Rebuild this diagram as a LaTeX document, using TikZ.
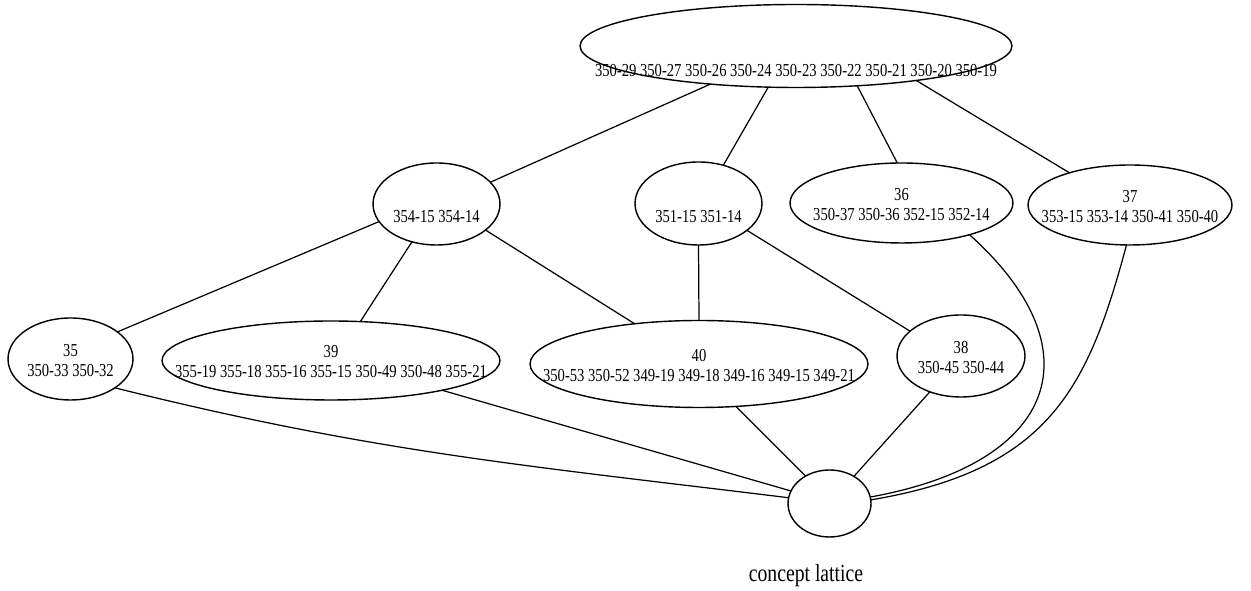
\documentclass[tikz,border=0pt]{standalone}
\usepackage{fontspec}
\setmainfont{Liberation Serif}[FakeStretch=0.80]
\usetikzlibrary{shapes.geometric}

% zero-size label boxes, so the ellipse keeps its given size
\newcommand{\oneline}[2]{\raisebox{#1}[0pt][0pt]{\makebox[0pt]{#2}}}
\newcommand{\twolines}[2]{\makebox[0pt]{\raisebox{1.5pt}[0pt][0pt]{#1}}\makebox[0pt]{\raisebox{-9.8pt}[0pt][0pt]{#2}}}

\begin{document}
\begin{tikzpicture}[x=0.02cm,y=0.02cm,
  concept/.style={ellipse, draw, line width=0.8pt, inner sep=0pt, outer sep=0pt,
                  font=\fontsize{10.4}{12}\selectfont},
  link/.style={line width=0.7pt}]
\useasboundingbox (0,0) rectangle (1251,591);
\fill[white] (0,0) rectangle (1251,591);

% top concept
\node[concept, minimum width=8.64cm, minimum height=1.66cm] (top) at (796,545)
  {\oneline{-17.3pt}{350-29 350-27 350-26 350-24 350-23 350-22 350-21 350-20 350-19}};

% second row
\node[concept, minimum width=2.54cm, minimum height=1.64cm] (n354) at (436.5,387)
  {\oneline{-10.8pt}{354-15 354-14}};
\node[concept, minimum width=2.54cm, minimum height=1.66cm] (n351) at (698.5,387.5)
  {\oneline{-10.8pt}{351-15 351-14}};
\node[concept, minimum width=4.46cm, minimum height=1.60cm] (n36) at (901.5,388)
  {\twolines{36}{350-37 350-36 352-15 352-14}};
\node[concept, minimum width=4.08cm, minimum height=1.60cm] (n37) at (1130,386)
  {\twolines{37}{353-15 353-14 350-41 350-40}};

% third row
\node[concept, minimum width=2.50cm, minimum height=1.64cm] (n35) at (70.5,232)
  {\twolines{35}{350-33 350-32}};
\node[concept, minimum width=6.76cm, minimum height=1.58cm] (n39) at (331,230.5)
  {\twolines{39}{355-19 355-18 355-16 355-15 350-49 350-48 355-21}};
\node[concept, minimum width=6.76cm, minimum height=1.74cm] (n40) at (699,227)
  {\twolines{40}{350-53 350-52 349-19 349-18 349-16 349-15 349-21}};
\node[concept, minimum width=2.56cm, minimum height=1.64cm] (n38) at (961,235)
  {\twolines{38}{350-45 350-44}};

% bottom concept
\node[concept, minimum width=1.66cm, minimum height=1.34cm] (bot) at (829.5,87.5) {};

\node[font=\fontsize{14}{16}\selectfont] (caption) at (806,15) {concept lattice};

% lattice edges
\draw[link] (top.204) -- (n354.22);
\draw[link] (top.236) -- (n351.57);
\draw[link] (top.-33) -- (n36.96);
\draw[link] (top.-16) -- (n37.152);
\draw[link] (n354.197) -- (n35.30);
\draw[link] (n354.237) -- (n39.53);
\draw[link] (n354.-28) -- (n40.148);
\draw[link] (n351.270) -- (n40.90);
\draw[link] (n351.-29) -- (n38.154);
\draw[link] (n35.-33) to[out=-14,in=173] (bot.172);
\draw[link] (n39.-15) -- (bot.162);
\draw[link] (n40.-49) -- (bot.131);
\draw[link] (n38.229) -- (bot.48);
\draw[link] (n36.-25) .. controls (1097,242) and (1059,128) .. (bot.9);
\draw[link] (n37.265) .. controls (1088,203) and (1049.5,121) .. (bot.5);
\end{tikzpicture}
\end{document}
